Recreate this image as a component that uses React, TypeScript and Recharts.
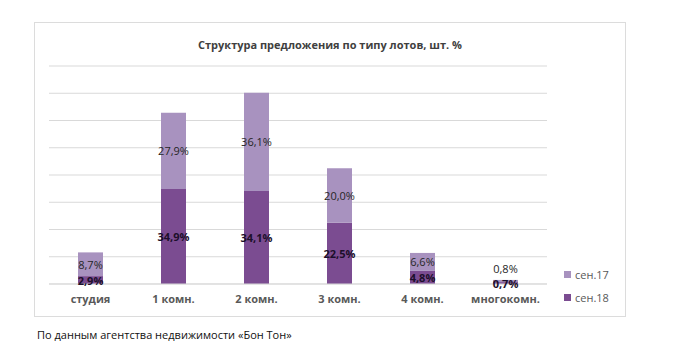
import React from "react";
import { BarChart, Bar, XAxis, YAxis, CartesianGrid, Legend, LabelList } from "recharts";

const categories = ["студия", "1 комн.", "2 комн.", "3 комн.", "4 комн.", "многокомн."];
const sep18 = [2.9, 34.9, 34.1, 22.5, 4.8, 0.7];
const sep17 = [8.7, 27.9, 36.1, 20.0, 6.6, 0.8];
const yTicks = [0, 10, 20, 30, 40, 50, 60, 70, 80];

const data = categories.map((name, i) => ({ name, s18: sep18[i], s17: sep17[i] }));

const FONT = "'Open Sans', 'Noto Sans', sans-serif";
const LIGHT = "#a892bf";
const DARK = "#7b4c91";

const fmt = (v: number) => v.toFixed(1).replace(".", ",") + "%";

const DarkLabel = (props: any) => {
  const { x, y, width, height, value } = props;
  return (
    <text x={x + width / 2} y={y + height / 2} textAnchor="middle" dominantBaseline="central"
      fontFamily={FONT} fontSize={11} fontWeight={700} fill="#1c0f2b">
      {fmt(value)}
    </text>
  );
};

const LightLabel = (props: any) => {
  const { x, y, width, height, value } = props;
  // tiny segments get their label above the bar
  const cy = height < 12 ? y - 11 : y + height / 2;
  return (
    <text x={x + width / 2} y={cy} textAnchor="middle" dominantBaseline="central"
      fontFamily={FONT} fontSize={11} fill="#262626">
      {fmt(value)}
    </text>
  );
};

const LegendBox = (props: any) => {
  const items = [...(props.payload || [])].sort((a: any, b: any) => String(a.value).localeCompare(String(b.value)));
  return (
    <div>
      {items.map((it: any) => (
        <div key={it.value} style={{ display: "flex", alignItems: "center", height: 23 }}>
          <span style={{ width: 7, height: 7, background: it.color, marginRight: 4, display: "inline-block" }} />
          <span style={{ fontFamily: FONT, fontSize: 11, color: "#595959" }}>{it.value}</span>
        </div>
      ))}
    </div>
  );
};

export default function App() {
  return (
    <div style={{ position: "fixed", left: 0, top: 0, width: 700, height: 364, background: "#fff" }}>
      <div style={{ position: "absolute", left: 34, top: 22, width: 590, height: 293, border: "1px solid #dcdcdc" }} />
      <div style={{ position: "absolute", left: 34, top: 35, width: 592, textAlign: "center" }}>
        <span style={{ fontFamily: FONT, fontSize: 11, fontWeight: 700, color: "#404040" }}>
          Структура предложения по типу лотов, шт. %
        </span>
      </div>
      <div style={{ position: "absolute", left: 34, top: 22 }}>
        <BarChart width={591} height={294} data={data} margin={{ top: 44, right: 78, bottom: 2, left: 15 }} barSize={25}>
          <CartesianGrid vertical={false} stroke="#d9d9d9" />
          <XAxis dataKey="name" axisLine={{ stroke: "#d9d9d9" }} tickLine={false} tickMargin={5} height={30}
            tick={{ fontFamily: FONT, fontSize: 11, fontWeight: 700, fill: "#595959" }} interval={0} />
          <YAxis hide domain={[0, 80]} ticks={yTicks} />
          <Legend layout="vertical" align="center" verticalAlign="middle" content={<LegendBox />}
            wrapperStyle={{ left: 530, top: 241, width: 60, bottom: "auto", right: "auto" }} />
          <Bar dataKey="s18" name="сен.18" stackId="a" fill={DARK} isAnimationActive={false}>
            <LabelList dataKey="s18" content={<DarkLabel />} />
          </Bar>
          <Bar dataKey="s17" name="сен.17" stackId="a" fill={LIGHT} isAnimationActive={false}>
            <LabelList dataKey="s17" content={<LightLabel />} />
          </Bar>
        </BarChart>
      </div>
      <div style={{ position: "absolute", left: 37, top: 327, fontFamily: FONT, fontSize: 11, color: "#111" }}>
        По данным агентства недвижимости «Бон Тон»
      </div>
    </div>
  );
}
